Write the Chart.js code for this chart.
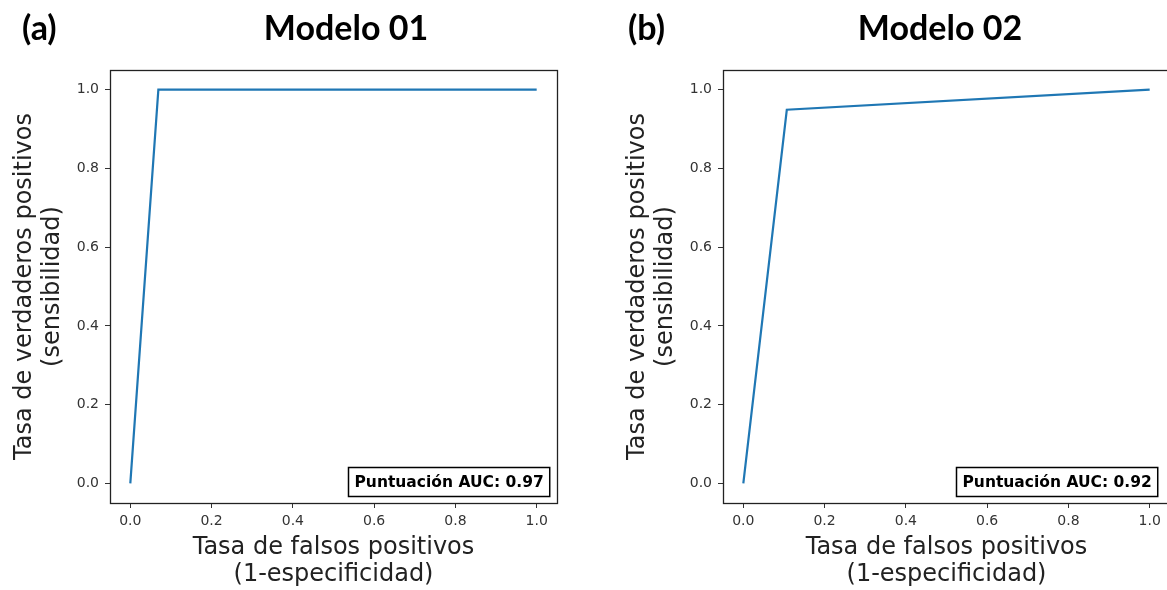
<!DOCTYPE html>
<html>
<head>
<meta charset="utf-8">
<script src="https://cdn.jsdelivr.net/npm/chart.js@4"></script>
<style>
  html, body { margin: 0; padding: 0; background: #fff; }
  body { width: 1167px; height: 590px; position: relative; overflow: hidden; }
  .panel { position: absolute; top: 0; width: 583px; height: 590px; }
  .panel canvas { position: absolute; left: 0; top: 0; }
  .letra, .titulo {
    position: absolute; top: 7px; margin: 0;
    font-family: Lato, "Noto Sans", sans-serif; font-weight: 700;
    font-size: 34px; line-height: 40px; color: #000; white-space: nowrap;
  }
  .titulo { transform: translateX(-50%); }
</style>
</head>
<body>
<div class="panel" id="panelA" style="left:0">
  <canvas id="rocA" width="583" height="590"></canvas>
</div>
<div class="panel" id="panelB" style="left:613px">
  <canvas id="rocB" width="583" height="590"></canvas>
</div>
<div class="letra" style="left:22px">(a)</div>
<div class="titulo" style="left:346px">Modelo 01</div>
<div class="letra" style="left:628px">(b)</div>
<div class="titulo" style="left:940px">Modelo 02</div>

<script>
// datos de las curvas ROC
const fprModelo01 = [0, 0.069, 1];
const tprModelo01 = [0, 1, 1];
const fprModelo02 = [0, 0.107, 1];
const tprModelo02 = [0, 0.949, 1];
const aucScores = [0.97, 0.92];

// ejes
const tickValues = [0, 0.2, 0.4, 0.6, 0.8, 1.0];
const tickLabels = ['0.0', '0.2', '0.4', '0.6', '0.8', '1.0'];

const TICK_COLOR = '#333';
const LINE_COLOR = '#1f77b4';

// marco del área de trazado + recuadro AUC
const framePlugin = {
    id: 'frame',
    afterDraw(chart, args, opts) {
        const { ctx, chartArea: a } = chart;
        ctx.save();
        ctx.strokeStyle = '#222';
        ctx.lineWidth = 1.3;
        ctx.strokeRect(Math.round(a.left) + 0.5, Math.round(a.top) + 0.5,
            Math.round(a.right - a.left), Math.round(a.bottom - a.top));

        // recuadro "Puntuación AUC"
        const text = 'Puntuación AUC: ' + opts.auc.toFixed(2);
        ctx.font = 'bold 15.5px "DejaVu Sans"';
        const w = ctx.measureText(text).width + 12;
        const h = 29;
        const right = opts.boxRight ?? (a.right - 8);
        const x = Math.round(right - w) + 0.5;
        const y = Math.round(a.bottom - 7 - h) + 0.5;
        ctx.fillStyle = '#fff';
        ctx.fillRect(x, y, w, h);
        ctx.lineWidth = 1.5;
        ctx.strokeStyle = '#000';
        ctx.strokeRect(x, y, w, h);
        ctx.fillStyle = '#000';
        ctx.textBaseline = 'middle';
        ctx.fillText(text, x + 6, y + h / 2 + 1);
        ctx.restore();
    }
};

function axisOptions(axis, title) {
    const isX = axis === 'x';
    return {
        type: 'linear',
        min: -0.05,
        max: 1.05,
        afterBuildTicks: scale => { scale.ticks = tickValues.map(v => ({ value: v })); },
        afterFit: scale => {
            if (isX) scale.height = 87; else scale.width = 110;
        },
        ticks: {
            autoSkip: false,
            maxRotation: 0,
            padding: isX ? 5 : 6,
            color: TICK_COLOR,
            font: { family: 'DejaVu Sans', size: 14 },
            callback: (value, index) => tickLabels[index]
        },
        grid: {
            drawOnChartArea: false,
            drawTicks: true,
            tickLength: 5,
            tickColor: TICK_COLOR,
            tickWidth: 1
        },
        border: { display: false },
        title: {
            display: true,
            text: title,
            color: '#222',
            font: { family: 'DejaVu Sans', size: 24, lineHeight: 1.15 },
            padding: isX ? { top: 0, bottom: 1 } : { top: 11, bottom: 0 }
        }
    };
}

function renderRoc(canvasId, fpr, tpr, auc, boxRight) {
    const points = fpr.map((x, i) => ({ x, y: tpr[i] }));
    return new Chart(document.getElementById(canvasId), {
        type: 'scatter',
        data: {
            datasets: [{
                data: points,
                showLine: true,
                borderColor: LINE_COLOR,
                backgroundColor: LINE_COLOR,
                borderWidth: 2.2,
                pointRadius: 0,
                tension: 0
            }]
        },
        options: {
            responsive: false,
            animation: false,
            layout: { padding: { top: 70, right: 26, left: 0, bottom: 0 } },
            scales: {
                x: axisOptions('x', ['Tasa de falsos positivos', '(1-especificidad)']),
                y: axisOptions('y', ['Tasa de verdaderos positivos', '(sensibilidad)'])
            },
            plugins: {
                legend: { display: false },
                tooltip: { enabled: false },
                frame: { auc, boxRight }
            }
        },
        plugins: [framePlugin]
    });
}

renderRoc('rocA', fprModelo01, tprModelo01, aucScores[0]);
renderRoc('rocB', fprModelo02, tprModelo02, aucScores[1], 1157 - 613);
</script>
</body>
</html>
